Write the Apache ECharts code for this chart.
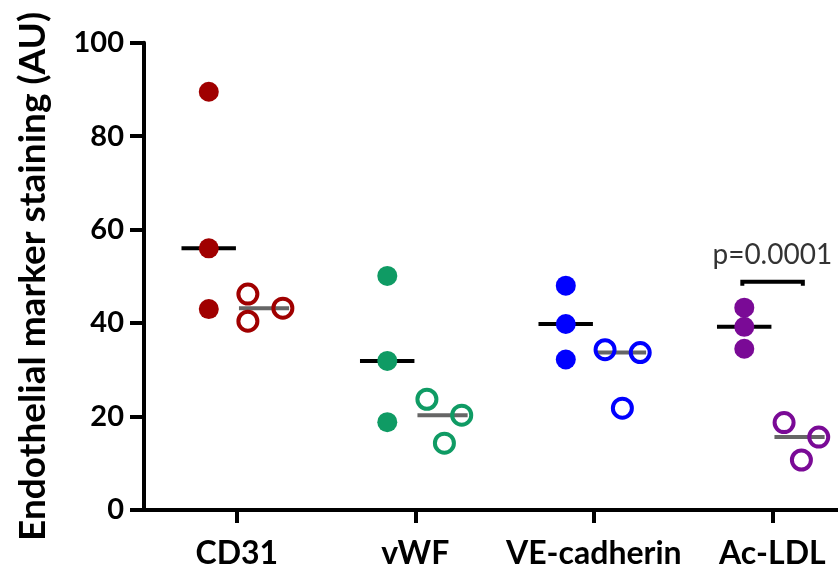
<!DOCTYPE html>
<html>
<head>
<meta charset="utf-8">
<script src="https://cdn.jsdelivr.net/npm/echarts@6/dist/echarts.min.js"></script>
<style>
  html, body { margin: 0; padding: 0; background: #fff; }
  #chart { width: 838px; height: 565px; }
</style>
</head>
<body>
<div id="chart"></div>
<script>
// groups along the x axis
const categories = ['CD31', 'vWF', 'VE-cadherin', 'Ac-LDL'];
const yTicks = [0, 20, 40, 60, 80, 100];

// filled circles (3 per group)
const filledValues = [
  [89.5, 56.0, 43.0],
  [50.1, 31.9, 18.8],
  [48.0, 39.8, 32.2],
  [43.3, 39.2, 34.5],
];
// open circles (3 per group)
const openValues = [
  [46.2, 40.4, 43.2],
  [23.7, 14.3, 20.3],
  [34.3, 21.8, 33.7],
  [18.7, 10.7, 15.6],
];
// significance bracket over Ac-LDL
const pLabel = 'p=0.0001';
const bracketGroup = 4;
const bracketTop = 48.85;
const bracketLeg = 48.0;
const pLabelY = 54.5;

const groupColors = ['#a00000', '#0f9b64', '#0000ff', '#7a0a96'];
const filledShift = -0.157;
const openShift = [
  [0.062, 0.062, 0.258],
  [0.065, 0.163, 0.26],
  [0.063, 0.16, 0.26],
  [0.066, 0.163, 0.26],
];
const font = 'Lato, "Open Sans", sans-serif';

const median = (arr) => arr.slice().sort((a, b) => a - b)[Math.floor(arr.length / 2)];

const chart = echarts.init(document.getElementById('chart'), null, { renderer: 'canvas' });

const series = [];

// median lines, drawn under the dots
const medianLine = (name, values, lo, hi, color) => ({
  name,
  type: 'custom',
  z: 1,
  data: values.map((v, i) => [i + 1, median(v)]),
  renderItem: (params, api) => {
    const c = api.value(0);
    const m = api.value(1);
    const p0 = api.coord([c + lo, m]);
    const p1 = api.coord([c + hi, m]);
    return {
      type: 'line',
      shape: { x1: p0[0], y1: p0[1], x2: p1[0], y2: p1[1] },
      style: { stroke: color, lineWidth: 4 },
    };
  },
});
series.push(medianLine('filledMedian', filledValues, -0.31, -0.005, '#000'));
series.push(medianLine('openMedian', openValues, 0.012, 0.293, '#666666'));

categories.forEach((cat, i) => {
  series.push({
    name: cat + ' filled',
    type: 'scatter',
    z: 3,
    symbol: 'circle',
    symbolSize: 20,
    itemStyle: { color: groupColors[i], opacity: 1 },
    data: filledValues[i].map((v) => [i + 1 + filledShift, v]),
  });
  series.push({
    name: cat + ' open',
    type: 'scatter',
    z: 3,
    symbol: 'circle',
    symbolSize: 19,
    itemStyle: { color: 'rgba(0,0,0,0)', borderColor: groupColors[i], borderWidth: 4, opacity: 1 },
    data: openValues[i].map((v, j) => [i + 1 + openShift[i][j], v]),
  });
});

// bracket
series.push({
  name: 'bracket',
  type: 'line',
  z: 2,
  symbol: 'none',
  lineStyle: { color: '#000', width: 4, cap: 'butt', join: 'miter' },
  data: [
    [bracketGroup - 0.168, bracketLeg],
    [bracketGroup - 0.168, bracketTop],
    [bracketGroup + 0.171, bracketTop],
    [bracketGroup + 0.171, bracketLeg],
  ],
});
series.push({
  name: 'pvalue',
  type: 'scatter',
  z: 4,
  symbolSize: 0,
  label: {
    show: true,
    position: 'inside',
    formatter: pLabel,
    color: '#000',
    fontFamily: font,
    fontSize: 28,
  },
  data: [[bracketGroup, pLabelY]],
});

const option = {
  backgroundColor: '#fff',
  animation: false,
  grid: { left: 144, top: 42.7, right: 0, height: 467.3, outerBoundsMode: 'none' },
  xAxis: {
    type: 'value',
    min: 0.48,
    max: 4.368,
    splitLine: { show: false },
    axisLine: { show: true, onZero: false, lineStyle: { color: '#000', width: 4 } },
    axisTick: { show: true, customValues: [1, 2, 3, 4], length: 13, lineStyle: { color: '#000', width: 4 } },
    axisLabel: {
      show: true,
      customValues: [1, 2, 3, 4],
      formatter: (v) => categories[Math.round(v) - 1],
      margin: 28,
      color: '#000',
      fontWeight: 'bold',
      fontFamily: font,
      fontSize: 32,
    },
  },
  yAxis: {
    type: 'value',
    min: yTicks[0],
    max: yTicks[yTicks.length - 1],
    interval: 20,
    name: 'Endothelial marker staining (AU)',
    nameLocation: 'middle',
    nameGap: 92,
    nameTextStyle: { color: '#000', fontWeight: 'bold', fontFamily: font, fontSize: 37 },
    splitLine: { show: false },
    axisLine: { show: true, lineStyle: { color: '#000', width: 4 } },
    axisTick: { show: true, length: 14, lineStyle: { color: '#000', width: 4 } },
    axisLabel: {
      margin: 20,
      color: '#000',
      fontWeight: 'bold',
      fontFamily: font,
      fontSize: 29,
    },
  },
  series,
};

chart.setOption(option);
window.addEventListener('resize', () => chart.resize());
</script>
</body>
</html>
